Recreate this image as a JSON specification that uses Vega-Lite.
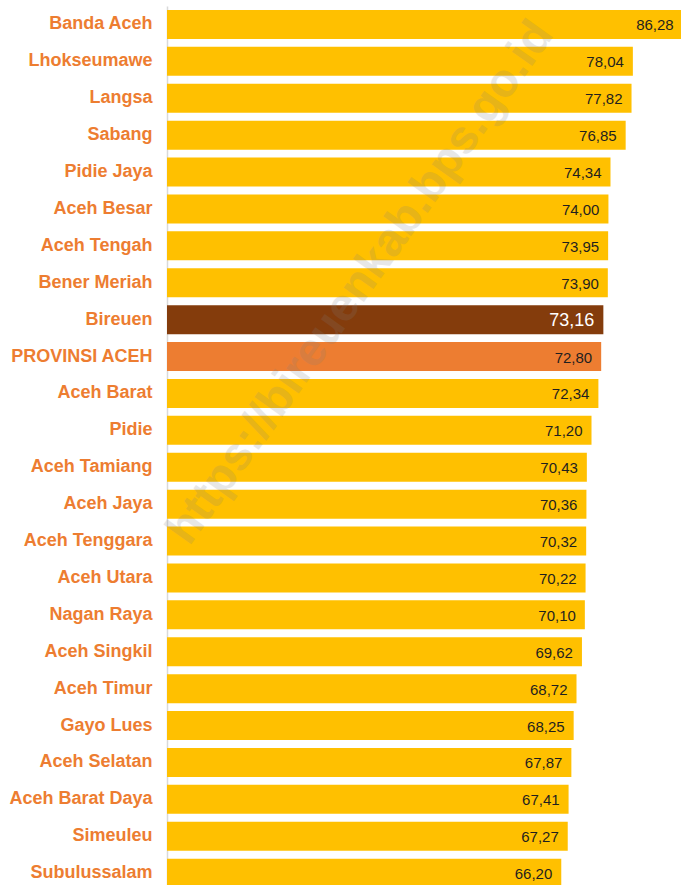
{
  "$schema": "https://vega.github.io/schema/vega-lite/v6.json",
  "width": 514,
  "height": 879,
  "autosize": {"type": "none"},
  "padding": {"top": 6, "left": 167, "right": 0, "bottom": 0},
  "background": "white",
  "config": {
    "view": {"stroke": null},
    "locale": {"number": {"decimal": ",", "thousands": ".", "grouping": [3], "currency": ["", ""]}}
  },
  "layer": [
    {
      "data": {"name": "main", "values": [
        {"region": "Banda Aceh", "value": 86.28},
        {"region": "Lhokseumawe", "value": 78.04},
        {"region": "Langsa", "value": 77.82},
        {"region": "Sabang", "value": 76.85},
        {"region": "Pidie Jaya", "value": 74.34},
        {"region": "Aceh Besar", "value": 74.00},
        {"region": "Aceh Tengah", "value": 73.95},
        {"region": "Bener Meriah", "value": 73.90},
        {"region": "Bireuen", "value": 73.16},
        {"region": "PROVINSI ACEH", "value": 72.80},
        {"region": "Aceh Barat", "value": 72.34},
        {"region": "Pidie", "value": 71.20},
        {"region": "Aceh Tamiang", "value": 70.43},
        {"region": "Aceh Jaya", "value": 70.36},
        {"region": "Aceh Tenggara", "value": 70.32},
        {"region": "Aceh Utara", "value": 70.22},
        {"region": "Nagan Raya", "value": 70.10},
        {"region": "Aceh Singkil", "value": 69.62},
        {"region": "Aceh Timur", "value": 68.72},
        {"region": "Gayo Lues", "value": 68.25},
        {"region": "Aceh Selatan", "value": 67.87},
        {"region": "Aceh Barat Daya", "value": 67.41},
        {"region": "Simeuleu", "value": 67.27},
        {"region": "Subulussalam", "value": 66.20}
      ]},
      "layer": [
        {
          "mark": {"type": "bar", "clip": true},
          "encoding": {
            "y": {
              "field": "region", "type": "nominal", "sort": null,
              "scale": {"range": [0, 885.6], "paddingInner": 0.214, "paddingOuter": 0.107},
              "axis": {
                "title": null, "ticks": false, "labelPadding": 15, "domainColor": "#d9d9d9", "domainWidth": 1.5,
                "labelColor": "#ED7D31", "labelFont": "'Liberation Sans', Arial, sans-serif",
                "labelFontWeight": "bold", "labelFontSize": 18, "labelLimit": 300, "grid": false
              }
            },
            "x": {
              "field": "value", "type": "quantitative",
              "scale": {"domain": [1, 86], "zero": false, "nice": false},
              "axis": null
            },
            "x2": {"datum": 1},
            "color": {
              "condition": [
                {"test": "datum.region === 'Bireuen'", "value": "#843C0C"},
                {"test": "datum.region === 'PROVINSI ACEH'", "value": "#ED7D31"}
              ],
              "value": "#FFC000"
            }
          }
        },
        {
          "mark": {"type": "text", "align": "right", "baseline": "middle", "dx": -9, "dy": 1,
                   "font": "'Liberation Sans', Arial, sans-serif"},
          "encoding": {
            "y": {"field": "region", "type": "nominal", "sort": null},
            "x": {"field": "value", "type": "quantitative"},
            "text": {"field": "value", "type": "quantitative", "format": ".2f"},
            "color": {
              "condition": {"test": "datum.region === 'Bireuen'", "value": "#ffffff"},
              "value": "#1f1f1f"
            },
            "size": {
              "condition": {"test": "datum.region === 'Bireuen'", "value": 18},
              "value": 15
            }
          }
        }
      ]
    },
    {
      "data": {"values": [{"region": "Bener Meriah", "value": 33, "mark": "https://bireuenkab.bps.go.id"}]},
      "mark": {"type": "text", "align": "center", "baseline": "middle", "angle": -54.5,
               "font": "'Liberation Sans', Arial, sans-serif", "fontWeight": "bold", "fontSize": 47,
               "color": "#7f7f7f", "opacity": 0.18},
      "encoding": {
        "y": {"field": "region", "type": "nominal", "sort": null},
        "x": {"field": "value", "type": "quantitative"},
        "text": {"field": "mark", "type": "nominal"}
      }
    }
  ]
}
